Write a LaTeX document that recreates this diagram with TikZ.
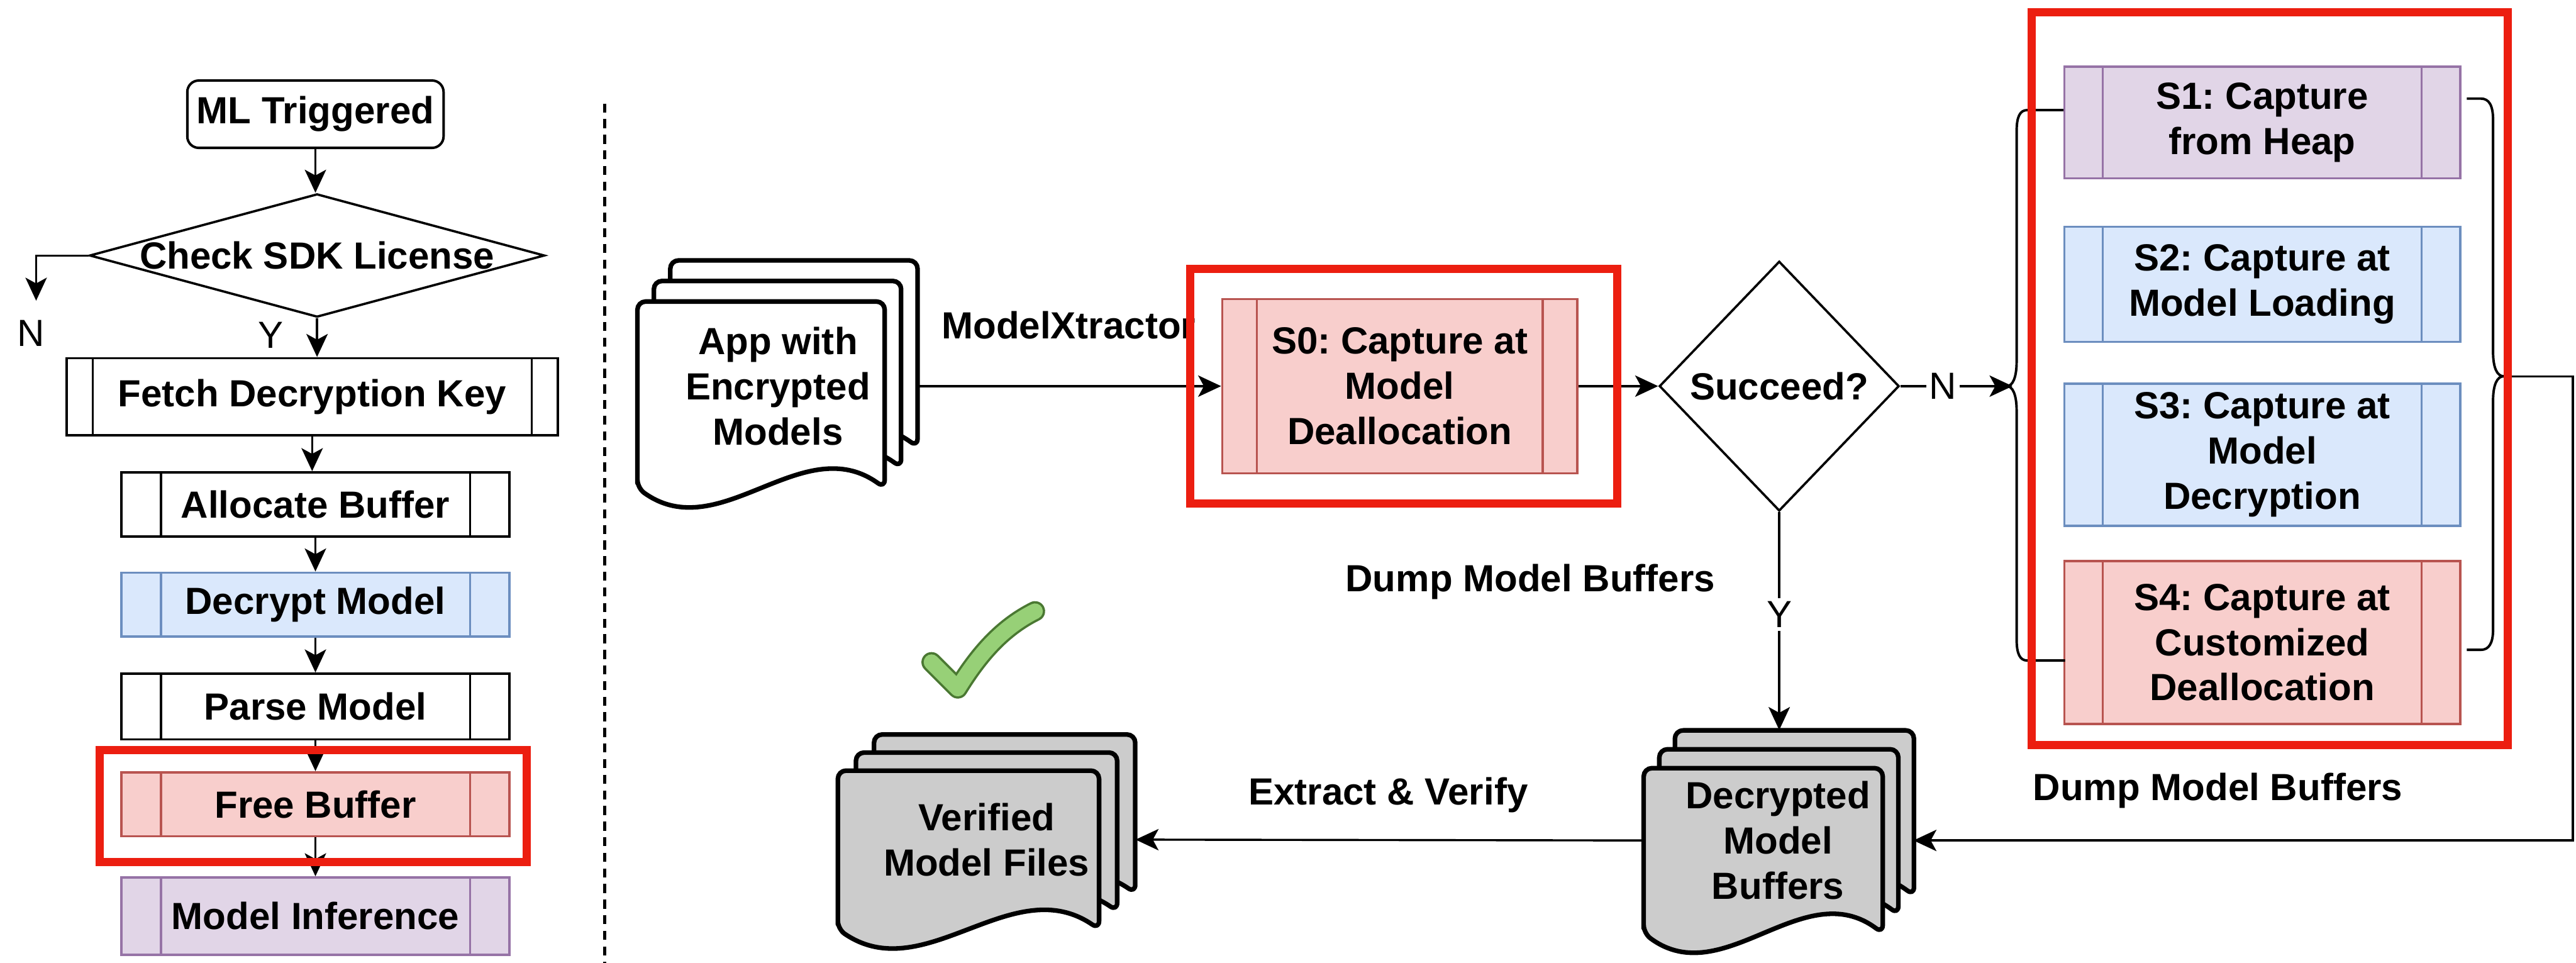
\documentclass[tikz,border=0pt]{standalone}
\usepackage{fontspec}
\setmainfont{Liberation Sans}
\usepackage{xcolor}
\usetikzlibrary{arrows.meta, shapes.geometric, positioning}
\frenchspacing

\definecolor{bluefill}{HTML}{DAE8FC}
\definecolor{blueline}{HTML}{6C8EBF}
\definecolor{pinkfill}{HTML}{F8CECC}
\definecolor{pinkline}{HTML}{B85450}
\definecolor{purplefill}{HTML}{E1D5E7}
\definecolor{purpleline}{HTML}{9673A6}
\definecolor{docgray}{HTML}{CCCCCC}
\definecolor{markred}{RGB}{236,30,16}
\definecolor{tickfill}{HTML}{97D077}
\definecolor{tickline}{RGB}{74,120,50}

% one page of a document stack: x, top, width, bottom, fill
\newcommand{\docpage}[5]{%
  \filldraw[docline, fill=#5] (#1,#2+#4) -- (#1,#2) -- (#1+#3,#2) -- (#1+#3,#2+#4)
    .. controls (#1+#3*0.667,#2+#4-36) and (#1+#3*0.333,#2+#4+36) .. (#1,#2+#4) -- cycle;}
% three pages: x, top (front page), width, bottom, dx, dy, fill
\newcommand{\multidoc}[7]{%
  \docpage{#1+2*#5}{#2-2*#6}{#3}{#4}{#7}%
  \docpage{#1+#5}{#2-#6}{#3}{#4}{#7}%
  \docpage{#1}{#2}{#3}{#4}{#7}}

\begin{document}
\begin{tikzpicture}[
    x=1pt, y=-1pt,
    >={Stealth[length=14pt, width=13pt, inset=3.5pt]},
    font=\bfseries\fontsize{23}{27.5}\selectfont,
    every node/.style={align=center, inner sep=0pt},
    conn/.style={->, line width=1.3pt},
    docline/.style={line width=2.8pt, rounded corners=5pt, line join=round},
    docnode/.style={rectangle},
    pbar/.style 2 args={path picture={
      \draw[#2, line width=1.2pt]
        ([xshift=#1]path picture bounding box.north west) -- ([xshift=#1]path picture bounding box.south west)
        ([xshift=-#1]path picture bounding box.north east) -- ([xshift=-#1]path picture bounding box.south east);}},
    boxbase/.style={rectangle, draw, line width=1.5pt, minimum width=236pt, minimum height=39pt},
    proc/.style={boxbase, pbar={#1}{black}},
    proc/.default=24pt,
    blueproc/.style={boxbase, draw=blueline, fill=bluefill, line width=1.4pt, pbar={#1}{blueline}},
    blueproc/.default=24pt,
    pinkproc/.style={boxbase, draw=pinkline, fill=pinkfill, line width=1.4pt, pbar={#1}{pinkline}},
    pinkproc/.default=24pt,
    purpleproc/.style={boxbase, draw=purpleline, fill=purplefill, line width=1.4pt, pbar={#1}{purpleline}},
    purpleproc/.default=24pt,
    sbox/.style={minimum width=241pt},
    startbox/.style={rectangle, rounded corners=7pt, draw, line width=1.5pt, minimum width=156pt, minimum height=41pt},
    decision/.style={diamond, draw, line width=1.4pt},
    yn/.style={font=\fontsize{23}{27.5}\selectfont},
    brace/.style={line width=1.5pt, line join=round},
    redframe/.style={draw=markred, line width=5pt},
    sepline/.style={line width=1.8pt, dash pattern=on 5.5pt off 4pt},
    tick/.style={draw=tickline, double=tickfill, double distance=9.5pt, line width=1.4pt, line cap=round, line join=round},
  ]

  \path[use as bounding box, fill=white] (0,0) rectangle (1568,586);

  % SDK flow
  \node[startbox] (ml) at (192,69.5) {ML Triggered};
  \node[decision, minimum width=277pt, minimum height=75pt,
        label=center:{Check SDK License}] (lic) at (193,155.5) {};
  \node[proc=16pt, minimum width=299pt, minimum height=47pt] (fetch) at (190,241.5) {Fetch Decryption Key};
  \node[proc] (alloc) at (192,307) {Allocate Buffer};
  \node[blueproc] (decrypt) at (192,368) {Decrypt Model};
  \node[proc, minimum height=40pt] (parse) at (192,430) {Parse Model};
  \node[pinkproc] (free) at (192,489.5) {Free Buffer};
  \node[purpleproc, minimum height=47pt] (infer) at (192,557.5) {Model Inference};
  \coordinate (nend) at (22,183);
  \node[yn] (nleft) at (19,203) {N};
  \node[yn] (yleft) at (165,204) {Y};

  \foreach \a/\b in {ml/lic, fetch/alloc, alloc/decrypt, decrypt/parse, parse/free, free/infer}
    \draw[conn] (\a.south) -- (\a.south |- \b.north);
  \draw[conn] (lic.south) -- (lic.south |- fetch.north);
  \draw[conn] (lic.west) -| (nend);

  \draw[sepline] (368,63) -- (368,586);

  % ModelXtractor flow
  \multidoc{388}{183.5}{150.5}{113.5}{10}{12.5}{white}
  \node[docnode, minimum width=171pt, minimum height=149pt] (app) at (473.5,235) {App with\\Encrypted\\Models};
  \node[pinkproc=21pt, minimum width=216pt, minimum height=106pt] (s0) at (852,235) {S0: Capture at\\Model\\Deallocation};
  \node[decision, minimum width=146pt, minimum height=152pt] (succ) at (1083,235) {Succeed?};

  \node[purpleproc=23.5pt, sbox, minimum height=68pt] (s1) at (1377,74.5) {S1: Capture\\from Heap};
  \node[blueproc=23.5pt, sbox, minimum height=70pt] (s2) at (1377,173) {S2: Capture at\\Model Loading};
  \node[blueproc=23.5pt, sbox, minimum height=86.5pt] (s3) at (1377,276.75) {S3: Capture at\\Model\\Decryption};
  \node[pinkproc=23.5pt, sbox, minimum height=99pt] (s4) at (1377,391) {S4: Capture at\\Customized\\Deallocation};

  \multidoc{1000.5}{467.5}{145.5}{100.5}{9.5}{11.5}{docgray}
  \node[docnode, minimum width=164.5pt, minimum height=134pt] (dec) at (1082.25,511.5) {Decrypted\\Model\\Buffers};
  \multidoc{510}{469}{159}{96.5}{11}{11}{docgray}
  \node[docnode, minimum width=181pt, minimum height=128pt] (ver) at (600.5,511) {Verified\\Model Files};

  \node (xtr) at (650.5,198) {ModelXtractor};
  \node (dump1) at (931.5,354) {Dump Model Buffers};
  \node (dump2) at (1350,481) {Dump Model Buffers};
  \node (xver) at (845,484) {Extract \& Verify};

  % braces round S1--S4
  \coordinate (ltip) at (1225,235);
  \coordinate (rtip) at (1524,229);
  \coordinate (rturn) at (1566,229);
  \draw[brace] (1256,67) -- (1234,67) .. controls (1229.5,67) and (1227.5,71) .. (1227.5,80)
    -- (1227.5,220) .. controls (1227.5,230) and (1225,235) .. (1221.5,235)
    .. controls (1225,235) and (1227.5,240) .. (1227.5,250)
    -- (1227.5,389) .. controls (1227.5,398) and (1229.5,402) .. (1234,402) -- (1257,402);
  \draw[brace] (1501.5,60) -- (1510,60) .. controls (1515,60) and (1517.5,64) .. (1517.5,73)
    -- (1517.5,214) .. controls (1517.5,224) and (1520,229) .. (1524,229)
    .. controls (1520,229) and (1517.5,234) .. (1517.5,244)
    -- (1517.5,383) .. controls (1517.5,391.5) and (1515,395.5) .. (1510,395.5) -- (1501.5,395.5);

  \draw[conn] (app) -- (s0);
  \draw[conn] (s0) -- (succ);
  \draw[conn] (succ.east) -- node[yn, fill=white, inner sep=2pt, pos=0.38] (nlab) {N} (ltip);
  \draw[conn] (succ.south) -- node[yn, fill=white, inner sep=2pt, pos=0.47] (ylab) {Y} (succ.south |- dec.north);
  \draw[conn] (rtip) -- (rturn) |- (dec.east);
  \draw[conn] (dec.west) -- (ver.east);

  \draw[tick] (567,403) -- (583,419) .. controls (596,398) and (610,382) .. (630,372);

  % highlights
  \draw[redframe] (60.5,456.5) rectangle (320.5,524.5);
  \draw[redframe] (724.5,163.5) rectangle (984.5,306.5);
  \draw[redframe] (1236.5,7.5) rectangle (1526.5,453.5);

\end{tikzpicture}
\end{document}
